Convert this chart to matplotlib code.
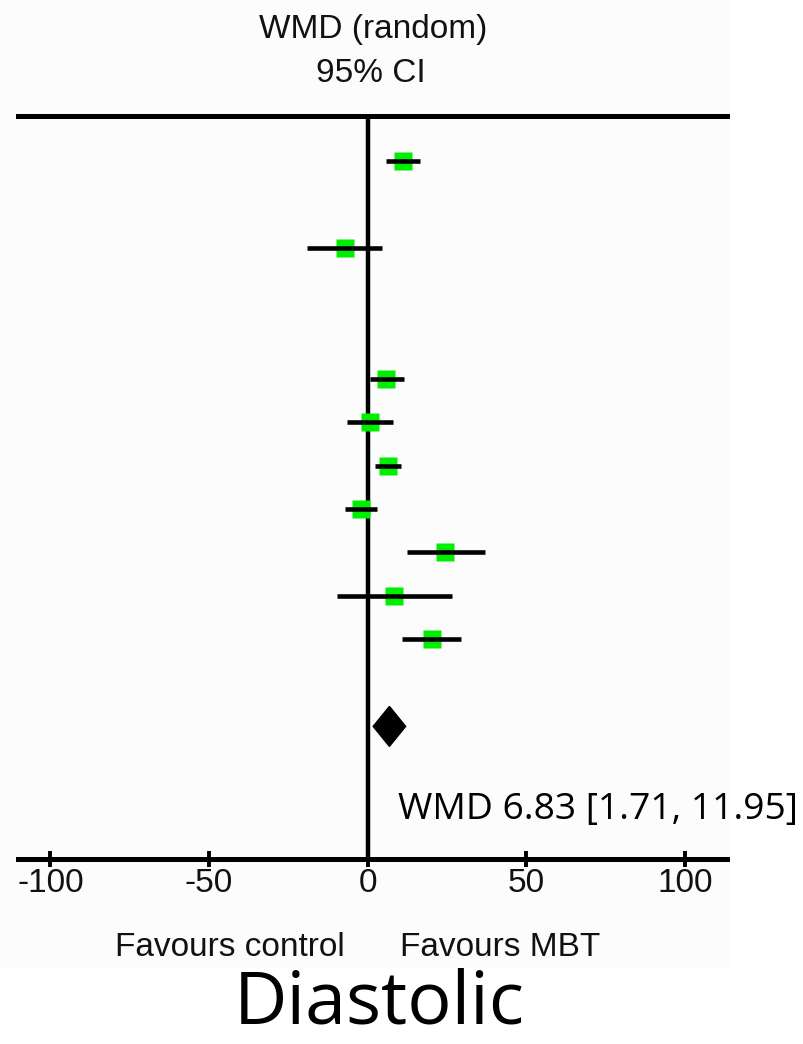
"""
Forest-Plot (Diastolic): WMD (random), 95% CI.
"""

import matplotlib
matplotlib.use("Agg")
import matplotlib.pyplot as plt
from matplotlib.patches import Rectangle


# Studien: Zeile im Plot, Effekt, untere und obere Grenze des 95%-KI
study_rows = [0, 2, 5, 6, 7, 8, 9, 10, 11]
study_wmd = [11.1, -7.3, 5.9, 0.8, 6.4, -2.1, 24.5, 8.4, 20.1]
study_lo = [5.8, -19.0, 0.8, -6.4, 2.4, -7.1, 12.5, -9.7, 10.9]
study_hi = [16.6, 4.6, 11.3, 7.9, 10.5, 2.9, 36.9, 26.7, 29.4]

# Gepoolter Effekt
pooled_row = 13
pooled_wmd = 6.83
pooled_lo = 1.71
pooled_hi = 11.95

x_ticks = [-100, -50, 0, 50, 100]

W, H = 804, 1044
ARIAL = "Liberation Sans"
SEGOE = "Open Sans"
INK = "#111111"


def fx(px):
    return px / W


def fy(py):
    return 1 - py / H


fig = plt.figure(figsize=(W / 100, H / 100), dpi=100)
fig.patch.set_facecolor("white")
fig.patches.append(Rectangle((0, fy(968)), fx(730), 1 - fy(968),
                             transform=fig.transFigure, facecolor="#fcfcfc",
                             edgecolor="none", zorder=-10))

ax = fig.add_axes([fx(18), fy(859), fx(727) - fx(18), fy(115.5) - fy(859)])
ax.set_facecolor("none")
ax.set_xlim(-110.2, 113.2)
ax.set_ylim(16.05, -1.05)

# Nulllinie
ax.axvline(0, color="black", lw=3.2, zorder=1)

# Einzelstudien: KI-Linie über grünem Quadrat
for row, est, lo, hi in zip(study_rows, study_wmd, study_lo, study_hi):
    ax.plot([est], [row], marker="s", ms=13.5, color="#00ee00",
            mec="none", zorder=2)
    ax.plot([lo, hi], [row, row], color="black", lw=3.3,
            solid_capstyle="butt", zorder=3)

# Gepoolter Effekt als Raute
half = 0.46
ax.fill([pooled_lo, pooled_wmd, pooled_hi, pooled_wmd],
        [pooled_row, pooled_row - half, pooled_row, pooled_row + half],
        color="black", zorder=3)

for side in ["left", "right"]:
    ax.spines[side].set_visible(False)
for side in ["top", "bottom"]:
    ax.spines[side].set_linewidth(3.6)

ax.set_yticks([])
ax.set_xticks(x_ticks)
ax.set_xticklabels([str(t) for t in x_ticks])
ax.tick_params(axis="x", direction="inout", length=11, width=2.8, pad=1,
               labelsize=24, labelcolor=INK)
for lab in ax.get_xticklabels():
    lab.set_family(ARIAL)

# Texte
fig.text(fx(373), fy(38), "WMD (random)", ha="center", va="baseline",
         fontsize=24, family=ARIAL, color=INK)
fig.text(fx(371), fy(82), "95% CI", ha="center", va="baseline",
         fontsize=24, family=ARIAL, color=INK)
fig.text(fx(345), fy(956), "Favours control", ha="right", va="baseline",
         fontsize=24, family=ARIAL, color=INK)
fig.text(fx(400), fy(956), "Favours MBT", ha="left", va="baseline",
         fontsize=24, family=ARIAL, color=INK)
fig.text(fx(398), fy(819), "WMD 6.83 [1.71, 11.95]", ha="left",
         va="baseline", fontsize=26.8, family=SEGOE, color="black")
fig.text(fx(379), fy(1024), "Diastolic", ha="center", va="baseline",
         fontsize=53, family=SEGOE, color="black")

fig.savefig("out.png", dpi=100)
plt.close(fig)
